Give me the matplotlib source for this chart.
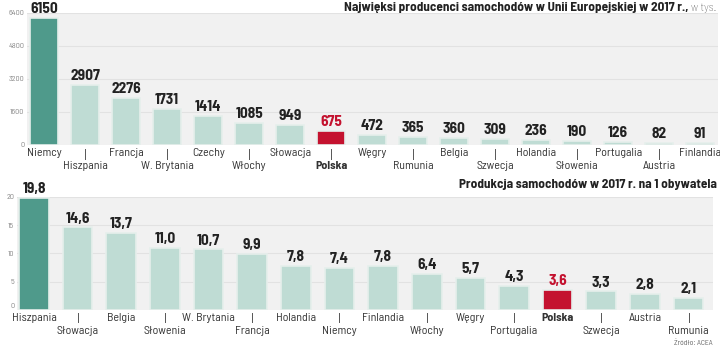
import matplotlib.pyplot as plt

plt.rcParams["font.family"] = ["Barlow Semi Condensed", "Roboto", "DejaVu Sans"]

# --- data ---
prod_countries = ["Niemcy", "Hiszpania", "Francja", "W. Brytania", "Czechy", "Włochy",
                  "Słowacja", "Polska", "Węgry", "Rumunia", "Belgia", "Szwecja",
                  "Holandia", "Słowenia", "Portugalia", "Austria", "Finlandia"]
prod_values = [6150, 2907, 2276, 1731, 1414, 1085, 949, 675, 472, 365, 360, 309,
               236, 190, 126, 82, 91]
prod_ticks = [0, 1600, 3200, 4800, 6400]

cap_countries = ["Hiszpania", "Słowacja", "Belgia", "Słowenia", "W. Brytania", "Francja",
                 "Holandia", "Niemcy", "Finlandia", "Włochy", "Węgry", "Portugalia",
                 "Polska", "Szwecja", "Austria", "Rumunia"]
cap_values = [19.8, 14.6, 13.7, 11.0, 10.7, 9.9, 7.8, 7.4, 7.8, 6.4, 5.7, 4.3,
              3.6, 3.3, 2.8, 2.1]
cap_ticks = [0, 5, 10, 15, 20]

DARK = "#4f9a8b"
LIGHT = "#bfdcd4"
RED = "#c4122f"
PANEL = "#f1f1f1"
GRID = "#e2e2e2"


def draw_panel(ax, names, values, ticks, fmt, row_off):
    n = len(names)
    colors = [LIGHT] * n
    colors[0] = DARK
    hl = names.index("Polska")
    colors[hl] = RED
    ax.set_facecolor(PANEL)
    for y in ticks[1:]:
        ax.axhline(y, color=GRID, lw=0.8, zorder=0)
    ax.bar(range(n), values, width=0.68, color=colors, edgecolor="#e6efec",
           linewidth=1.2, zorder=2)
    ymax = ticks[-1]
    for i, v in enumerate(values):
        ax.text(i, v + ymax * 0.015, fmt(v), ha="center", va="bottom",
                fontsize=11, fontweight="bold",
                color=RED if i == hl else "#222222", zorder=3, clip_on=False)
    tr = ax.get_xaxis_transform()
    for i, name in enumerate(names):
        bold = "bold" if i == hl else "normal"
        if i % 2 == 0:
            ax.text(i, -0.025, name, transform=tr, ha="center", va="top",
                    fontsize=8.6, color="#333333", fontweight=bold)
        else:
            ax.plot([i, i], [-0.03, -0.11], transform=tr, color="#555555",
                    lw=0.7, clip_on=False)
            ax.text(i, -row_off, name, transform=tr, ha="center", va="top",
                    fontsize=8.6, color="#333333", fontweight=bold)
    ax.set_xticks([])
    ax.set_yticks(ticks)
    ax.set_yticklabels([str(t) for t in ticks], fontsize=5.8, color="#888888")
    ax.tick_params(axis="y", length=0, pad=2)
    for s in ax.spines.values():
        s.set_visible(False)


fig = plt.figure(figsize=(7.2, 3.51), dpi=100)

ax1 = fig.add_axes([0.0375, 0.587, 0.96, 0.376])
ax1.set_xlim(-0.42, len(prod_values) - 0.56)
ax1.set_ylim(0, 6400)
draw_panel(ax1, prod_countries, prod_values, prod_ticks, lambda v: f"{v}", 0.125)

ax2 = fig.add_axes([0.0236, 0.117, 0.966, 0.322])
ax2.set_xlim(-0.39, len(cap_values) - 0.45)
ax2.set_ylim(0, 20)
draw_panel(ax2, cap_countries, cap_values, cap_ticks,
           lambda v: f"{v:.1f}".replace(".", ","), 0.14)
# keep the "0" clear of the first country name
ax2.get_yticklabels()[0].set_verticalalignment("bottom")

# titles
unit = fig.text(0.995, 0.978, "w tys.", ha="right", va="center", fontsize=8.5,
                color="#555555", fontweight="light")
fig.canvas.draw()
ux = unit.get_window_extent().x0 / fig.bbox.width
fig.text(ux - 0.004, 0.978,
         "Najwięksi producenci samochodów w Unii Europejskiej w 2017 r.,",
         ha="right", va="center", fontsize=9.5, fontweight="bold", color="#222222")
fig.text(0.995, 0.473, "Produkcja samochodów w 2017 r. na 1 obywatela",
         ha="right", va="center", fontsize=9.5, fontweight="bold", color="#222222")
fig.text(0.99, 0.012, "Źródło: ACEA", ha="right", va="bottom", fontsize=5.5,
         color="#666666")

fig.savefig("out.png", dpi=100)
